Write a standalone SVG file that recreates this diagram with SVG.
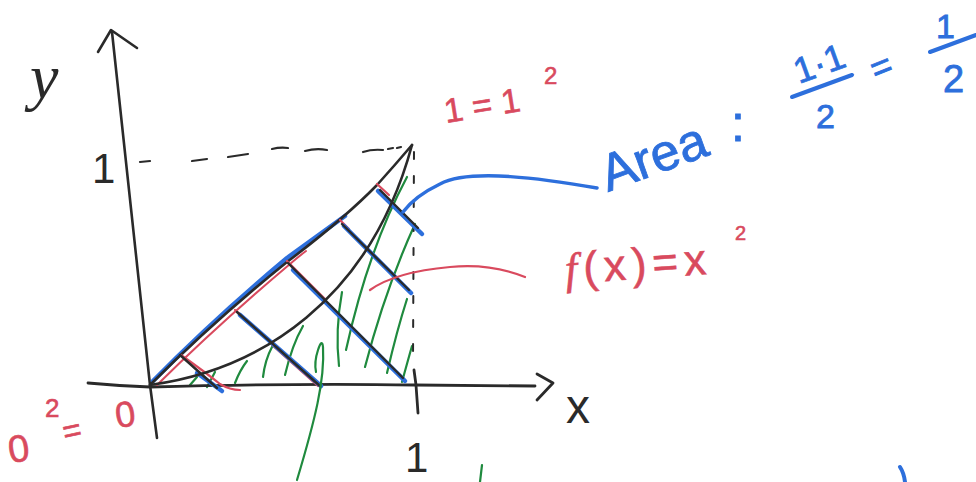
<svg xmlns="http://www.w3.org/2000/svg" width="976" height="482" viewBox="0 0 976 482">
<style>
.k{fill:none;stroke:#2a2a2a;stroke-linecap:round;stroke-linejoin:round}
.r{fill:none;stroke:#d94a5e;stroke-linecap:round;stroke-linejoin:round}
.b{fill:none;stroke:#2d6fdc;stroke-linecap:round;stroke-linejoin:round}
.g{fill:none;stroke:#1f8a3e;stroke-linecap:round;stroke-linejoin:round;stroke-width:2.2}
.t{font-family:"Liberation Sans",Arial,sans-serif}
.tk{fill:#2a2a2a}
.tr{fill:#d94a5e;stroke:#d94a5e;stroke-width:0.6}
.tb{fill:#2d6fdc;stroke:#2d6fdc;stroke-width:0.8}
</style>
<rect width="976" height="482" fill="#ffffff"/>

<g id="green-hatching">
<path class="g" d="M190,385 L197,377"/>
<path class="g" d="M207,387 L215,372"/>
<path class="g" d="M235,383 Q240,370 247,361"/>
<path class="g" d="M263,377 Q265,360 272,347"/>
<path class="g" d="M285,375 Q292,345 303,326"/>
<path class="g" d="M339,366 Q335,330 342,292"/>
<path class="g" d="M346,350 Q368,250 407,177"/>
<path class="g" d="M365,367 Q385,290 415,224"/>
<path class="g" d="M387,373 Q397,330 407,299"/>
<path class="g" d="M402,382 Q408,360 412,346"/>
</g>

<g id="axes">
<path class="k" stroke-width="2.6" d="M112,32 Q130,200 150,385 L157,438"/>
<path class="k" stroke-width="2.6" d="M98,52 L111,30 L137,48"/>
<path class="k" stroke-width="2.8" d="M88,383 Q120,386 150,387 Q300,383 415,385 L535,386"/>
<path class="k" stroke-width="2.8" d="M537,374 L553,383 L537,400"/>
<path class="k" stroke-width="2.8" d="M414,370 L416,385 L418,413"/>
<path class="k" stroke-width="2" stroke-dasharray="7 17" d="M414,152 L413,360"/>
<g id="dashed-horizontal" class="k" stroke-width="2.2">
<path d="M140,162 L150,161"/>
<path d="M192,161 L207,159"/>
<path d="M228,157 L248,154"/>
<path d="M272,149 Q280,147 288,148"/>
<path d="M305,151 Q316,148 327,150"/>
<path d="M363,152 Q372,149 383,150"/>
<path d="M388,149 L393,148"/>
<path d="M397,148 L401,147"/>
</g>
</g>

<g id="upper-line">
<path class="b" stroke-width="4.5" d="M153,381 Q215,318 287,258 Q320,234 345,216"/>
<path class="r" stroke-width="2" d="M157,385 Q220,323 290,264 Q298,257 306,251"/>
<path class="k" stroke-width="2.6" d="M150,385 Q215,320 287,262 Q345,218 377,185 Q395,165 412,145"/>
</g>

<g id="hatch-lines">
<path class="r" stroke-width="2.2" d="M181,355 Q205,372 220,384 Q230,390 240,390"/>
<path class="b" stroke-width="4.5" d="M197,373 L222,391"/>
<path class="k" stroke-width="2.4" d="M180,355 L217,388"/>

<path class="r" stroke-width="2.2" d="M235,310 L247,320"/>
<path class="r" stroke-width="2.2" d="M272,345 L318,386"/>
<path class="b" stroke-width="4.5" d="M240,315 L321,386"/>
<path class="k" stroke-width="2.4" d="M237,312 L320,386"/>

<path class="r" stroke-width="2.2" d="M287,261 L326,300"/>
<path class="b" stroke-width="4.5" d="M293,270 L405,381"/>
<path class="k" stroke-width="2.4" d="M288,263 L403,378"/>

<path class="r" stroke-width="2.2" d="M340,220 L349,229"/>
<path class="b" stroke-width="4.5" d="M344,226 L411,293"/>
<path class="k" stroke-width="2.4" d="M342,224 L409,290"/>

<path class="r" stroke-width="2.2" d="M377,184 L389,195"/>
<path class="b" stroke-width="4.5" d="M378,191 L422,234"/>
<path class="k" stroke-width="2.4" d="M380,190 L418,228"/>
</g>

<g id="parabola">
<path class="k" stroke-width="2.6" d="M150,385 C260,370 370,300 412,145"/>
</g>

<g id="pointers">
<path class="b" stroke-width="3.5" d="M597,188 C545,179 470,168 440,184 Q415,196 403,212"/>
<path class="r" stroke-width="2.2" d="M525,277 Q490,263 450,267 Q395,272 370,290"/>
<path class="g" d="M297,480 C315,420 325,380 323,347 Q322,338 318,350 Q314,362 316,372"/>
<path class="g" d="M482,465 L480,482"/>
<path class="b" stroke-width="4" d="M900,467 Q904,473 905,482"/>
</g>

<g id="labels">
<text class="t tk" x="30" y="98" font-size="64" font-style="italic" style="font-family:'Liberation Serif',serif">y</text>
<text class="t tk" x="92" y="183" font-size="42">1</text>
<text class="t tk" x="566" y="423" font-size="48">x</text>
<text class="t tk" x="405" y="472" font-size="42">1</text>

<text class="t tr" font-size="34" transform="translate(446,123) rotate(-9)">1 = 1</text>
<text class="t tr" x="544" y="84" font-size="24">2</text>

<text class="t tr" font-size="38" transform="translate(10,463) rotate(-8)">0</text>
<text class="t tr" x="45" y="417" font-size="26">2</text>
<text class="t tr" font-size="32" transform="translate(65,443) rotate(-12)">=</text>
<text class="t tr" font-size="36" transform="translate(117,428) rotate(-8)">0</text>

<text class="t tr" font-size="44" letter-spacing="6" transform="translate(566,284) rotate(-4)"><tspan style="font-family:'Liberation Serif',serif" font-style="italic">f</tspan>(x)=x</text>
<text class="t tr" x="735" y="240" font-size="20">2</text>

<text class="t tb" font-size="52" transform="translate(608,192) rotate(-20)">Area</text>
<text class="t tb" x="731" y="141" font-size="50">:</text>
<text class="t tb" font-size="36" transform="translate(799,84) rotate(-20)">1·1</text>
<path class="b" stroke-width="4" d="M792,97 L852,75"/>
<text class="t tb" x="816" y="128" font-size="34">2</text>
<text class="t tb" font-size="36" transform="translate(876,82) rotate(-22)">=</text>
<text class="t tb" x="936" y="38" font-size="34">1</text>
<path class="b" stroke-width="4" d="M930,52 L976,35"/>
<text class="t tb" x="943" y="92" font-size="38">2</text>
</g>
</svg>
